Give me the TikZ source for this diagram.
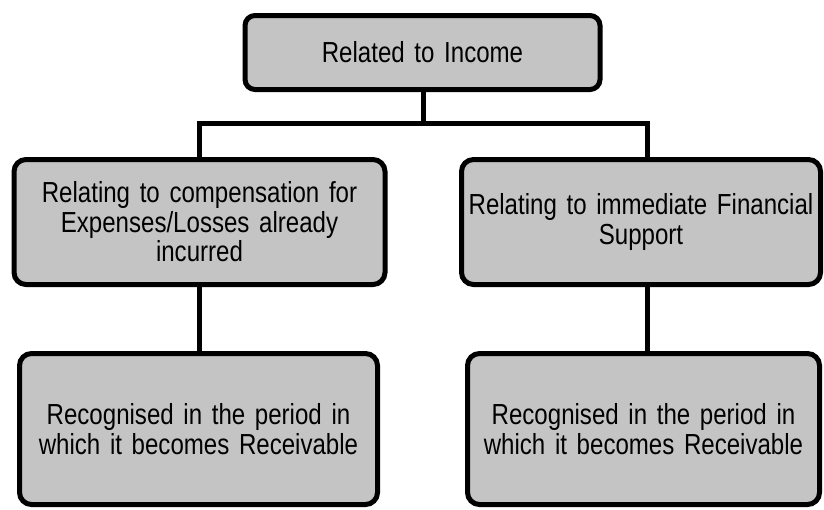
\documentclass[tikz,border=0pt]{standalone}
\usepackage{fontspec}
\setmainfont{Liberation Sans}[FakeStretch=0.83, WordSpace=0.8]
\usetikzlibrary{positioning, calc}
\definecolor{boxgray}{RGB}{196,196,196}

\begin{document}
\begin{tikzpicture}[
    x=0.5pt, y=-0.5pt,
    gbox/.style={draw, line width=2.5pt, rounded corners=6pt, fill=boxgray,
                 inner sep=0pt, align=center, text width=175pt,
                 font=\fontsize{14.5}{14.75}\selectfont},
    link/.style={line width=2.5pt}
  ]
  \useasboundingbox (0,0) rectangle (824,509);

  \node[gbox, minimum width=177.5pt, minimum height=37pt,
        rounded corners=5pt] (income) at (422.5,52.5) {Related to Income};

  \node[gbox, minimum width=185.5pt, minimum height=62.5pt] (comp)
    at (199.5,222) {Relating to compensation for\\Expenses/Losses already\\incurred};
  \node[gbox, minimum width=179.5pt, minimum height=62.5pt] (support)
    at (641,222) {Relating to immediate Financial\\Support};

  \node[gbox, minimum width=179pt, minimum height=75.5pt] (recvL)
    at (198.5,429) {Recognised in the period in\\which it becomes Receivable};
  \node[gbox, minimum width=176pt, minimum height=75.5pt] (recvR)
    at (643.5,429) {Recognised in the period in\\which it becomes Receivable};

  % bus under the top box
  \coordinate (busM) at (423,123);
  \coordinate (busL) at (199,123);
  \coordinate (busR) at (647,123);

  \draw[link] (income.south -| busM) -- (busM);
  \draw[link] (busL |- comp.north) -- (busL) -- (busR) -- (busR |- support.north);
  \draw[link] (comp.south -| recvL.north) ++(1,0) -- ($(recvL.north)+(1,0)$);
  \draw[link] (support.south -| busR) -- (busR |- recvR.north);
\end{tikzpicture}
\end{document}
